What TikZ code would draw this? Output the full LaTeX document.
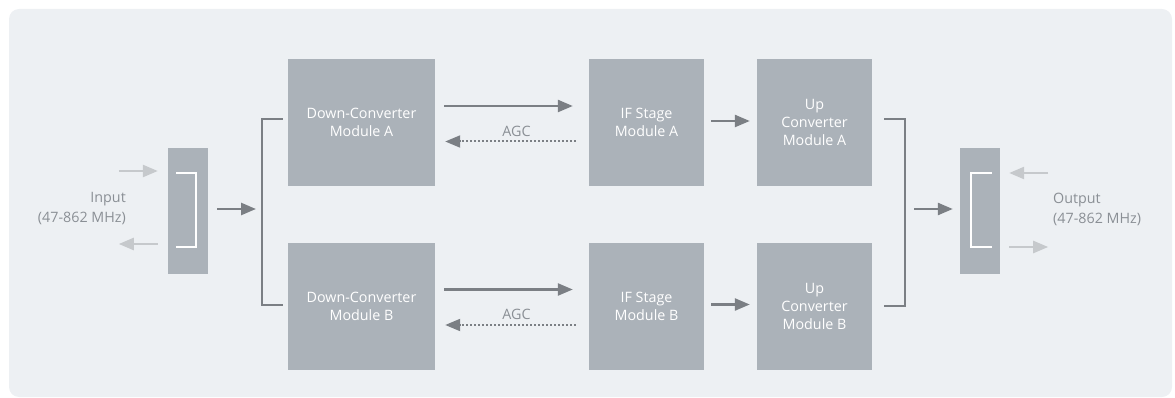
\documentclass[tikz,border=0pt]{standalone}
\usepackage{fontspec}
\setmainfont{Open Sans}
\usepackage{xcolor}
\usetikzlibrary{calc,positioning,arrows.meta}

\definecolor{panelbg}{HTML}{EDF0F3}
\definecolor{modfill}{HTML}{ABB2B9}
\definecolor{darkline}{HTML}{7B7F84}
\definecolor{lightline}{HTML}{C6C9CC}
\definecolor{labeltext}{HTML}{8A8F95}

\tikzset{
  module/.style={fill=modfill, text=white, align=center, inner sep=0pt,
    font=\fontsize{14.3}{18}\selectfont},
  portbox/.style={fill=modfill, minimum width=40, minimum height=126, inner sep=0pt},
  sigarrow/.style={draw=darkline, line width=2.5pt, -{Triangle[length=15pt,width=12pt]}},
  agcarrow/.style={draw=darkline, line width=2pt, dotted, -{Triangle[length=15pt,width=12pt]}},
  rfarrow/.style={draw=lightline, line width=2.5pt, -{Triangle[length=15pt,width=12pt]}},
  splitline/.style={draw=darkline, line width=2.5pt},
  innerbr/.style={draw=white, line width=1.8pt},
  portlabel/.style={text=labeltext, font=\fontsize{14.3}{20}\selectfont, inner sep=0pt},
}

\begin{document}
\begin{tikzpicture}[x=1pt, y=-1pt]
  \useasboundingbox (0,0) rectangle (1175,398);
  \fill[panelbg, rounded corners=10pt] (9,9) rectangle (1172,397);

  \newcommand{\rowA}{122.5}
  \newcommand{\rowB}{306}
  % modules
  \node[module, minimum width=147, minimum height=127] (dcA) at (361.5,\rowA) {Down-Converter\\Module A};
  \node[module, minimum width=115, minimum height=127] (ifA) at (646.5,\rowA) {IF Stage\\Module A};
  \node[module, minimum width=115, minimum height=127] (upA) at (814.5,\rowA) {Up\\Converter\\Module A};
  \node[module, minimum width=147, minimum height=127] (dcB) at (361.5,\rowB) {Down-Converter\\Module B};
  \node[module, minimum width=115, minimum height=127] (ifB) at (646.5,\rowB) {IF Stage\\Module B};
  \node[module, minimum width=115, minimum height=127] (upB) at (814.5,\rowB) {Up\\Converter\\Module B};

  % input / output ports
  \node[portbox] (inbox) at (188,211) {};
  \node[portbox] (outbox) at (980,211) {};
  \draw[innerbr] ($(inbox)+(-12,-38)$) -- ($(inbox)+(8,-38)$) -- ($(inbox)+(8,36)$) -- ($(inbox)+(-12,36)$);
  \draw[innerbr] ($(outbox)+(12,-38)$) -- ($(outbox)+(-9,-38)$) -- ($(outbox)+(-9,36)$) -- ($(outbox)+(12,36)$);
  \node[portlabel, anchor=east, align=right] (inlabel) at (126,209) {Input\\(47-862 MHz)};
  \node[portlabel, anchor=west, align=left] (outlabel) at (1053,209) {Output\\(47-862 MHz)};

  \draw[rfarrow] ($(inbox.west)+(-49,-40)$) -- ($(inbox.west)+(-10,-40)$);
  \draw[rfarrow] ($(inbox.west)+(-10,33)$) -- ($(inbox.west)+(-49,33)$);
  \draw[rfarrow] ($(outbox.east)+(48,-38)$) -- ($(outbox.east)+(9,-38)$);
  \draw[rfarrow] ($(outbox.east)+(9,36)$) -- ($(outbox.east)+(48,36)$);

  % splitter and combiner
  \coordinate (splitL) at (262,211);
  \coordinate (splitR) at (905,211);
  \draw[splitline] ($(dcA.west)+(-5,-3.5)$) -| (splitL) |- ($(dcB.west)+(-5,-1)$);
  \draw[splitline] ($(upA.east)+(12,-3.5)$) -| (splitR) |- ($(upB.east)+(12,0)$);
  \draw[sigarrow] ($(inbox.east)+(9,-2)$) -- ($(splitL)+(-6,-2)$);
  \draw[sigarrow] ($(splitR)+(9,-2)$) -- ($(outbox.west)+(-7,-2)$);

  % signal paths
  \foreach \r in {A,B}{
    \draw[sigarrow] ($(dc\r.east)+(9,-16.5)$) -- ($(if\r.west)+(-16,-16.5)$);
    \draw[agcarrow] ($(if\r.west)+(-13,19)$) -- node[above=4pt, text=labeltext, font=\fontsize{14.3}{16}\selectfont, inner sep=0pt, xshift=6pt] {AGC} ($(dc\r.east)+(10,19)$);
    \draw[sigarrow] ($(if\r.east)+(7,-1.5)$) -- ($(up\r.west)+(-7,-1.5)$);
  }
\end{tikzpicture}
\end{document}
